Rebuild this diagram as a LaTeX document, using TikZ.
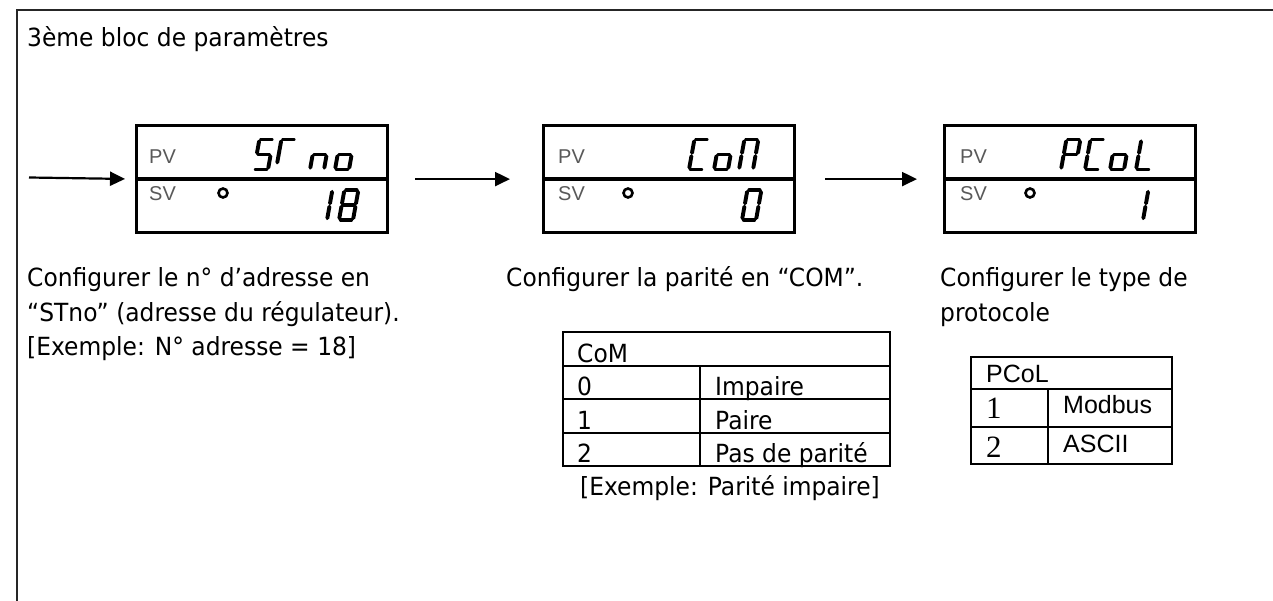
\documentclass[tikz,border=0pt]{standalone}
\usepackage{fontspec}
\setmainfont{DejaVu Sans}[FakeStretch=0.935]
\newfontfamily\arialf{Liberation Sans}
\newfontfamily\timesf{Liberation Serif}
\usetikzlibrary{arrows.meta}
% seven-segment paths (cell 14 x 30)
\def\sga{(1.8,30)--(12.2,30)}
\def\sgb{(14,28.2)--(14,16.6)}
\def\sgc{(14,13.4)--(14,1.8)}
\def\sgd{(1.8,0)--(12.2,0)}
\def\sge{(0,1.8)--(0,13.4)}
\def\sgf{(0,16.6)--(0,28.2)}
\def\sgg{(1.8,15)--(12.2,15)}
\def\sgt{(0,7)--(0,28.2)}
\newcommand\lcd[3]{\begin{scope}[shift={(#1,#2)}, x={(1pt,0pt)}, y={(0.18pt,1pt)}]
  \foreach \s in {#3}{\edef\tmp{\noexpand\draw[lcdseg] \csname sg\s\endcsname;}\tmp}
\end{scope}}
\tikzset{
 frame/.style={line width=2.5pt, draw=black!85},
 lcdbox/.style={draw, line width=3.2pt, minimum width=251pt, minimum height=107pt, inner sep=0pt, anchor=north west},
 divider/.style={line width=3.2pt},
 flow/.style={line width=2.2pt, -{Triangle[length=15pt,width=14pt]}},
 lbl/.style={font=\arialf\fontsize{20}{20}\selectfont, text=black!65, anchor=base west, inner sep=0pt},
 ring/.style={circle, draw, line width=2.6pt, minimum size=9pt, inner sep=0pt},
 lcdseg/.style={line width=3.9pt, line cap=round},
 txt/.style={font=\fontsize{25}{30}\selectfont, anchor=base west, inner sep=0pt},
 atxt/.style={font=\arialf\fontsize{25}{30}\selectfont, anchor=base west, inner sep=0pt},
 ttxt/.style={font=\timesf\fontsize{31}{31}\selectfont, anchor=base west, inner sep=0pt},
 tbl/.style={line width=2.8pt},
}
\begin{document}
\begin{tikzpicture}[x=1pt,y=-1pt]
\useasboundingbox (0,0) rectangle (1273,601);
\fill[white] (0,0) rectangle (1273,601);
% frame
\draw[frame] (17,640) -- (17,10) -- (1300,10);
\node[txt] (title) at (27,47) {3ème bloc de paramètres};
% displays
\node[lcdbox] (b1) at (135,124) {};
\node[lcdbox] (b2) at (542,124) {};
\node[lcdbox] (b3) at (943,124) {};
\foreach \b in {b1,b2,b3}{\draw[divider] (\b.west) -- (\b.east);}
% arrows
\coordinate (start) at (29,177.5);
\draw[flow, shorten >=10pt] (start) -- (b1.west);
\draw[flow, shorten <=26pt, shorten >=32pt] (b1.east) -- (b2.west);
\draw[flow, shorten <=29pt, shorten >=26pt] (b2.east) -- (b3.west);
% labels and rings
\node[lbl] (pv1) at (149,164) {PV};
\node[lbl] (sv1) at (149,201) {SV};
\node[ring] (r1) at (223,193) {};
\node[lbl] (pv2) at (558,164) {PV};
\node[lbl] (sv2) at (558,201) {SV};
\node[ring] (r2) at (628,193) {};
\node[lbl] (pv3) at (960,164) {PV};
\node[lbl] (sv3) at (960,201) {SV};
\node[ring] (r3) at (1030,193) {};
% LCD glyphs box 1: 5 T n o / 1 8
\lcd{254}{169.5}{a,f,g,c,d}
\lcd{276}{169.5}{a,t}
\lcd{310}{169.5}{e,g,c}
\lcd{335}{169.5}{c,d,e,g}
\lcd{313}{220}{b,c}
\lcd{339}{220}{a,b,c,d,e,f,g}
% box 2: C o M / 0
\lcd{689}{169.5}{a,d,e,f}
\lcd{714}{169.5}{c,d,e,g}
\lcd{739}{169.5}{a,b,c,e,f}
\lcd{742}{220}{a,b,c,d,e,f}
% box 3: P C o L / 1
\lcd{1061}{169.5}{a,b,e,f,g}
\lcd{1085}{169.5}{a,d,e,f}
\lcd{1110}{169.5}{c,d,e,g}
\lcd{1136}{169.5}{d,e,f}
\lcd{1129}{220}{b,c}
% captions
\node[txt] (c1a) at (27,287) {Configurer le n° d'adresse en};
\node[txt] (c1b) at (27,321) {“STno” (adresse du régulateur).};
\node[txt] (c1c) at (27,355) {[Exemple: N° adresse = 18]};
\node[txt] (c2) at (506,287) {Configurer la parité en “COM”.};
\node[txt] (c3a) at (940,287) {Configurer le type de};
\node[txt] (c3b) at (940,321) {protocole};
% CoM table
\draw[tbl] (563,332) rectangle (890,466);
\draw[tbl] (563,366) -- (890,366) (563,399) -- (890,399) (563,433) -- (890,433) (700,366) -- (700,466);
\node[txt] (tcom) at (577,362) {CoM};
\node[txt] (t0) at (577,395) {0};
\node[txt] (t0v) at (715,395) {Impaire};
\node[txt] (t1) at (577,429) {1};
\node[txt] (t1v) at (715,429) {Paire};
\node[txt] (t2) at (577,462) {2};
\node[txt] (t2v) at (715,462) {Pas de parité};
\node[txt] (ex2) at (580,495) {[Exemple: Parité impaire]};
% PCoL table
\draw[tbl] (971,357) rectangle (1172,464);
\draw[tbl] (971,389) -- (1172,389) (971,427) -- (1172,427) (1048,389) -- (1048,464);
\node[atxt] (tpcol) at (986,382) {PCoL};
\node[ttxt] (p1) at (986,418) {1};
\node[atxt] (p1v) at (1063,413) {Modbus};
\node[ttxt] (p2) at (986,457) {2};
\node[atxt] (p2v) at (1063,452) {ASCII};
\end{tikzpicture}
\end{document}
